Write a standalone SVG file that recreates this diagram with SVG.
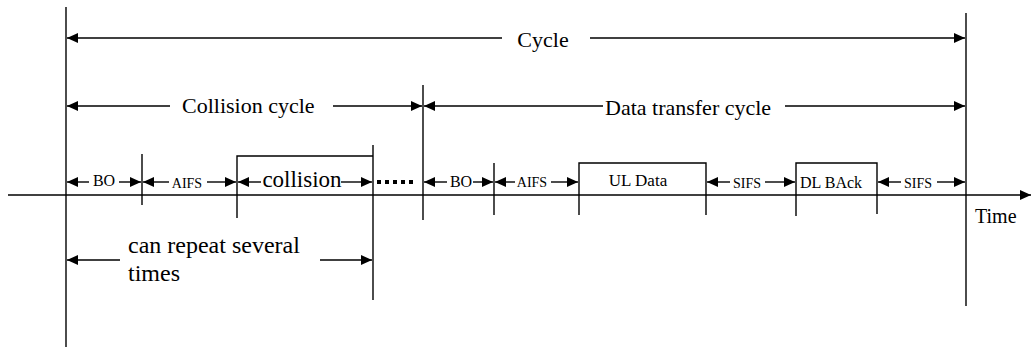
<svg xmlns="http://www.w3.org/2000/svg" width="1032" height="347" viewBox="0 0 1032 347">
<defs>
<marker id="ah" markerUnits="userSpaceOnUse" viewBox="0 0 11 10" refX="11" refY="5" markerWidth="11" markerHeight="10" orient="auto">
<path d="M0,0 L11,5 L0,10 z" fill="#000"/>
</marker>
<style>
line, polyline { stroke:#000; stroke-width:1.4; fill:none; }
.arr { marker-end:url(#ah); }
text { font-family:"Liberation Serif","Times New Roman",serif; fill:#000; }
.big { font-size:22px; }
.mid { font-size:17px; }
.sm { font-size:14px; }
.bo { font-size:16px; }
.dots { stroke-width:4; stroke-dasharray:4 4; }
</style>
</defs>
<rect width="1032" height="347" fill="#fff"/>

<g id="timeline">
<line class="arr" x1="8" y1="195" x2="1031" y2="195"/>
<text class="big" x="975" y="223" style="font-size:20px">Time</text>
</g>

<g id="boundaries">
<line x1="66" y1="7" x2="66" y2="347"/>
<line x1="966" y1="13" x2="966" y2="306"/>
<line x1="423" y1="85" x2="423" y2="220"/>
<line x1="373" y1="145" x2="373" y2="300"/>
<line x1="142" y1="154" x2="142" y2="205"/>
<line x1="494" y1="163" x2="494" y2="215"/>
</g>

<g id="collision-box">
<polyline points="237,218 237,156 373,156"/>
<text class="big" x="302" y="187" text-anchor="middle" style="font-size:23px">collision</text>
</g>

<g id="ul-data">
<polyline points="579,215 579,163 706,163 706,215"/>
<text class="mid" x="638" y="186" text-anchor="middle">UL Data</text>
</g>

<g id="dl-back">
<polyline points="796,216 796,163 877,163 877,214"/>
<text class="mid" x="831" y="188" text-anchor="middle" style="font-size:16px">DL BAck</text>
</g>

<g id="labels">
<text class="big" x="543" y="47" text-anchor="middle">Cycle</text>
<text class="big" x="182" y="113">Collision cycle</text>
<text class="big" x="605" y="115">Data transfer cycle</text>
<text class="bo" x="104" y="186" text-anchor="middle">BO</text>
<text class="sm" x="187" y="188" text-anchor="middle">AIFS</text>
<text class="bo" x="461" y="187" text-anchor="middle">BO</text>
<text class="sm" x="532" y="187" text-anchor="middle">AIFS</text>
<text class="sm" x="747" y="188" text-anchor="middle">SIFS</text>
<text class="sm" x="918" y="188" text-anchor="middle">SIFS</text>
<text class="big" x="128" y="253" style="font-size:24px">can repeat several</text>
<text class="big" x="128" y="281" style="font-size:24px">times</text>
</g>

<g id="connectors">
<line class="arr" x1="502" y1="38" x2="67" y2="38"/>
<line class="arr" x1="590" y1="38" x2="965" y2="38"/>
<line class="arr" x1="170" y1="106" x2="67" y2="106"/>
<line class="arr" x1="333" y1="106" x2="422" y2="106"/>
<line class="arr" x1="603" y1="106" x2="424" y2="106"/>
<line class="arr" x1="785" y1="106" x2="965" y2="106"/>
<line class="arr" x1="89" y1="182" x2="67" y2="182"/>
<line class="arr" x1="119" y1="182" x2="141" y2="182"/>
<line class="arr" x1="169" y1="182" x2="143" y2="182"/>
<line class="arr" x1="207" y1="182" x2="236" y2="182"/>
<line class="arr" x1="261" y1="182" x2="238" y2="182"/>
<line class="arr" x1="341" y1="182" x2="372" y2="182"/>
<line class="dots" x1="377" y1="182" x2="413" y2="182"/>
<line class="arr" x1="447" y1="182" x2="424" y2="182"/>
<line class="arr" x1="473" y1="182" x2="493" y2="182"/>
<line class="arr" x1="515" y1="182" x2="495" y2="182"/>
<line class="arr" x1="551" y1="182" x2="578" y2="182"/>
<line class="arr" x1="730" y1="182" x2="707" y2="182"/>
<line class="arr" x1="765" y1="182" x2="795" y2="182"/>
<line class="arr" x1="901" y1="182" x2="878" y2="182"/>
<line class="arr" x1="937" y1="182" x2="965" y2="182"/>
<line class="arr" x1="120" y1="260" x2="67" y2="260"/>
<line class="arr" x1="320" y1="260" x2="372" y2="260"/>
</g>
</svg>
